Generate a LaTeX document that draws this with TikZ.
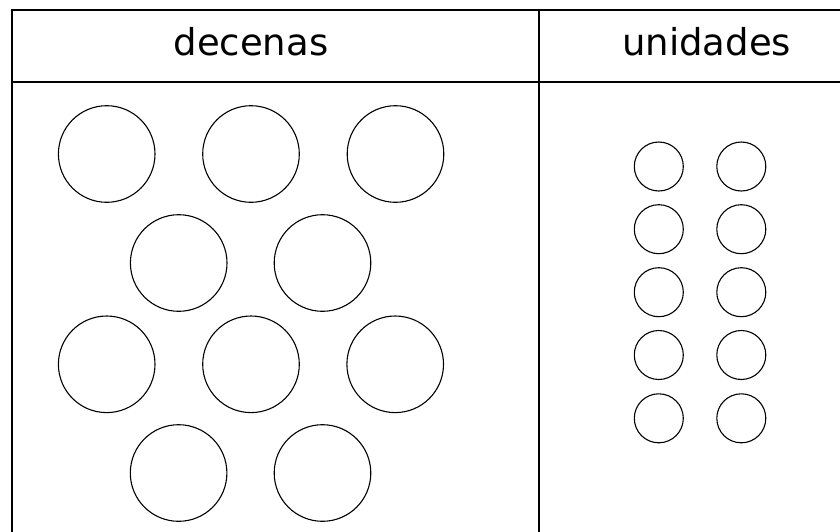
\documentclass[tikz,border=0pt]{standalone}
\usepackage{fontspec}
\setmainfont{DejaVu Sans}
\begin{document}
\begin{tikzpicture}[x=1pt,y=-1pt,
  rule/.style={line width=1.8pt,line cap=rect},
  big/.style={circle,draw,line width=1.1pt,inner sep=0pt,minimum size=96.6pt},
  small/.style={circle,draw,line width=1.1pt,inner sep=0pt,minimum size=49pt},
  head/.style={anchor=base,inner sep=0pt,font=\fontsize{37}{40}\selectfont}]
\useasboundingbox (0,0) rectangle (840,531);
% table
\coordinate (tl) at (12,10);
\coordinate (tr) at (840,10);
\coordinate (hl) at (12,82);
\coordinate (hr) at (840,82);
\coordinate (bl) at (12,531);
\coordinate (dt) at (539,10);
\coordinate (db) at (539,531);
\draw[rule] (tr) -- (tl) -- (bl);
\draw[rule] (hl) -- (hr);
\draw[rule] (dt) -- (db);
% headers
\node[head] (dec) at (251,55) {decenas};
\node[head] (uni) at (706.7,55) {unidades};
% tens
\node[big] (d1) at (106.7,154) {};
\node[big] (d2) at (251,154) {};
\node[big] (d3) at (395.5,154) {};
\node[big] (d4) at (178.7,263) {};
\node[big] (d5) at (322.5,263) {};
\node[big] (d6) at (106.7,364.3) {};
\node[big] (d7) at (251,364.3) {};
\node[big] (d8) at (395.2,364.3) {};
\node[big] (d9) at (178.6,473) {};
\node[big] (d10) at (322.5,473) {};
% units
\foreach \i/\y in {1/166.5,2/229.2,3/292.2,4/355,5/418.3}{
  \node[small] (ua\i) at (658.8,\y) {};
  \node[small] (ub\i) at (741.3,\y) {};
}
\end{tikzpicture}
\end{document}
